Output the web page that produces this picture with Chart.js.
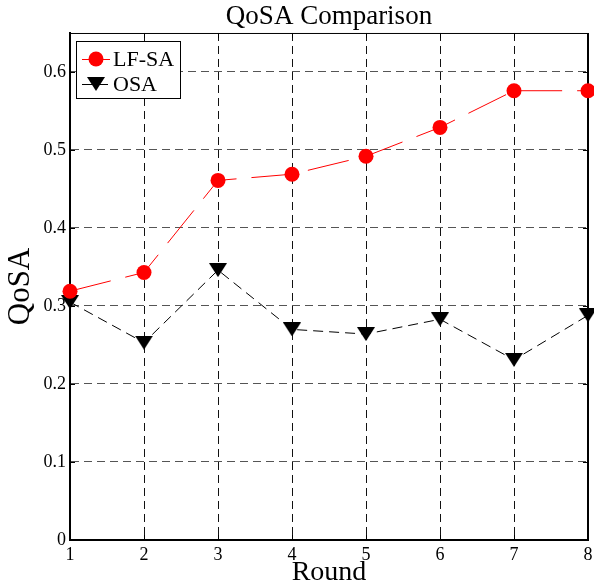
<!DOCTYPE html>
<html>
<head>
<meta charset="utf-8">
<script src="https://cdn.jsdelivr.net/npm/chart.js@4.4.0/dist/chart.umd.min.js"></script>
<style>
  html, body { margin: 0; padding: 0; background: #fff; }
  #wrap { width: 594px; height: 584px; }
</style>
</head>
<body>
<div id="wrap"><canvas id="c" width="594" height="584"></canvas></div>
<script>
const rounds = ['1', '2', '3', '4', '5', '6', '7', '8'];
const lfsa = [0.319, 0.343, 0.461, 0.469, 0.492, 0.529, 0.576, 0.576];
const osa = [0.305, 0.253, 0.346, 0.270, 0.264, 0.283, 0.231, 0.288];
const yTicks = [0, 0.1, 0.2, 0.3, 0.4, 0.5, 0.6];

const serif = '"Liberation Serif", "Times New Roman", serif';

// MATLAB-style 'v' marker, a bit wider than an equilateral triangle
function triangleDown(w, h) {
  const c = document.createElement('canvas');
  c.width = w;
  c.height = h;
  const g = c.getContext('2d');
  g.fillStyle = '#000';
  g.beginPath();
  g.moveTo(0, 0);
  g.lineTo(w, 0);
  g.lineTo(w / 2, h);
  g.closePath();
  g.fill();
  return c;
}
const triMarker = triangleDown(18, 14);

// box round the axes + small inward ticks
const framePlugin = {
  id: 'frame',
  beforeDatasetsDraw(chart) {
    const { ctx, chartArea: a, scales } = chart;
    ctx.save();
    ctx.strokeStyle = '#000';
    ctx.lineWidth = 1;
    ctx.beginPath();
    ctx.moveTo(a.left, a.top + 0.5);
    ctx.lineTo(a.right, a.top + 0.5);
    ctx.stroke();
    ctx.lineWidth = 2;
    ctx.beginPath();
    ctx.moveTo(a.right, a.top);
    ctx.lineTo(a.right, a.bottom);
    ctx.stroke();
    ctx.lineWidth = 1;
    ctx.beginPath();
    scales.x.ticks.forEach((t, i) => {
      const px = Math.round(scales.x.getPixelForTick(i)) + 0.5;
      ctx.moveTo(px, a.top);
      ctx.lineTo(px, a.top + 5);
      ctx.moveTo(px, a.bottom);
      ctx.lineTo(px, a.bottom - 5);
    });
    scales.y.ticks.forEach((t) => {
      const py = Math.round(scales.y.getPixelForValue(t.value)) + 0.5;
      ctx.moveTo(a.right, py);
      ctx.lineTo(a.right - 5, py);
      ctx.moveTo(a.left, py);
      ctx.lineTo(a.left + 5, py);
    });
    ctx.stroke();
    ctx.restore();
  },
};

// legend box in the top-left corner of the plot
const boxLegend = {
  id: 'boxLegend',
  afterDraw(chart) {
    const { ctx } = chart;
    const bx = 76, by = 41, bw = 104, bh = 57;
    ctx.save();
    ctx.fillStyle = '#fff';
    ctx.fillRect(bx, by, bw, bh);
    ctx.strokeStyle = '#000';
    ctx.lineWidth = 1;
    ctx.strokeRect(bx + 0.5, by + 0.5, bw, bh);
    chart.data.datasets.forEach((ds, i) => {
      const y = 59 + i * 25;
      ctx.strokeStyle = ds.borderColor;
      ctx.lineWidth = ds.borderWidth;
      ctx.setLineDash(ds.borderDash || []);
      ctx.beginPath();
      ctx.moveTo(82, y + 0.5);
      ctx.lineTo(110, y + 0.5);
      ctx.stroke();
      ctx.setLineDash([]);
      if (ds.pointStyle === 'circle') {
        ctx.fillStyle = ds.pointBackgroundColor;
        ctx.beginPath();
        ctx.arc(96, y, ds.pointRadius, 0, Math.PI * 2);
        ctx.fill();
      } else {
        const m = ds.pointStyle;
        ctx.drawImage(m, 96 - m.width / 2, y - m.height / 2);
      }
      ctx.fillStyle = '#000';
      ctx.font = '22px ' + serif;
      ctx.textBaseline = 'middle';
      ctx.textAlign = 'left';
      ctx.fillText(ds.label, 113, y + 1);
    });
    ctx.restore();
  },
};

new Chart(document.getElementById('c'), {
  type: 'line',
  plugins: [framePlugin, boxLegend],
  data: {
    labels: rounds,
    datasets: [
      {
        label: 'LF-SA',
        data: lfsa,
        borderColor: '#ff0000',
        borderWidth: 1,
        borderDash: [42, 15],
        pointStyle: 'circle',
        pointRadius: 7.5,
        pointBackgroundColor: '#ff0000',
        pointBorderColor: '#ff0000',
        pointBorderWidth: 0,
        tension: 0,
        clip: false,
      },
      {
        label: 'OSA',
        data: osa,
        borderColor: '#000',
        borderWidth: 1,
        borderDash: [10, 6],
        pointStyle: triMarker,
        pointRadius: 9,
        pointBackgroundColor: '#000',
        pointBorderWidth: 0,
        tension: 0,
        clip: false,
      },
    ],
  },
  options: {
    responsive: false,
    animation: false,
    layout: { autoPadding: false, padding: { left: 0, right: 6, top: 0, bottom: 0 } },
    plugins: {
      legend: { display: false },
      tooltip: { enabled: false },
      title: {
        display: true,
        text: 'QoSA Comparison',
        color: '#000',
        fullSize: false,
        font: { family: serif, size: 27, weight: 'normal', lineHeight: 1.2222 },
        padding: 0,
      },
    },
    scales: {
      x: {
        type: 'category',
        offset: false,
        afterFit: (s) => { s.height = 44; },
        grid: { color: '#111', lineWidth: 1, drawTicks: true, tickLength: 4, tickColor: 'rgba(0,0,0,0)' },
        border: { color: '#000', width: 2, dash: [8, 5] },
        ticks: { color: '#000', padding: 0, font: { family: serif, size: 18 } },
        title: {
          display: true,
          text: 'Round',
          color: '#000',
          font: { family: serif, size: 28, lineHeight: 0.8 },
          padding: { top: 0, bottom: 0 },
        },
      },
      y: {
        type: 'linear',
        min: 0,
        max: 0.65,
        afterBuildTicks: (s) => { s.ticks = yTicks.map((v) => ({ value: v })); },
        afterFit: (s) => { s.width = 70; },
        grid: { color: '#555', lineWidth: 1, drawTicks: false },
        border: { color: '#000', width: 2, dash: [8, 5] },
        ticks: { color: '#000', padding: 4, font: { family: serif, size: 18 } },
        title: {
          display: true,
          text: 'QoSA',
          color: '#000',
          font: { family: serif, size: 31, lineHeight: 1 },
          padding: { top: 5, bottom: 0 },
        },
      },
    },
  },
});
</script>
</body>
</html>
